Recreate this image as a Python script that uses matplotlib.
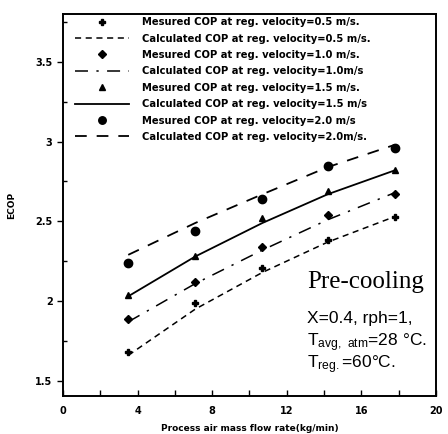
import matplotlib
matplotlib.use("Agg")
import matplotlib.pyplot as plt
from matplotlib.ticker import MultipleLocator

flow = [3.5, 7.1, 10.7, 14.2, 17.8]

meas_05 = [1.68, 1.99, 2.21, 2.38, 2.53]
calc_05 = [1.66, 1.95, 2.18, 2.37, 2.53]
meas_10 = [1.89, 2.12, 2.34, 2.54, 2.67]
calc_10 = [1.87, 2.11, 2.32, 2.51, 2.68]
meas_15 = [2.04, 2.28, 2.52, 2.69, 2.82]
calc_15 = [2.03, 2.28, 2.49, 2.67, 2.82]
meas_20 = [2.24, 2.44, 2.64, 2.85, 2.96]
calc_20 = [2.29, 2.49, 2.67, 2.84, 2.98]

labels = [
    "Mesured COP at reg. velocity=0.5 m/s.",
    "Calculated COP at reg. velocity=0.5 m/s.",
    "Mesured COP at reg. velocity=1.0 m/s.",
    "Calculated COP at reg. velocity=1.0m/s",
    "Mesured COP at reg. velocity=1.5 m/s.",
    "Calculated COP at reg. velocity=1.5 m/s",
    "Mesured COP at reg. velocity=2.0 m/s",
    "Calculated COP at reg. velocity=2.0m/s.",
]

x_ticks = [0, 4, 8, 12, 16, 20]
y_ticks = [1.5, 2, 2.5, 3, 3.5]
y_tick_labels = ["1.5", "2", "2.5", "3", "3.5"]

fig = plt.figure(figsize=(4.48, 4.34), dpi=100)
ax = fig.add_axes([0.1406, 0.0876, 0.8324, 0.8801])

k = "black"
ax.plot(flow, meas_05, ls="none", marker="P", ms=5, color=k, label=labels[0])
ax.plot(flow, calc_05, ls=(0, (4, 3)), lw=1.1, color=k, label=labels[1])
ax.plot(flow, meas_10, ls="none", marker="D", ms=4, color=k, label=labels[2])
ax.plot(flow, calc_10, ls=(0, (8.5, 5.5, 1.5, 5.5)), lw=1.1, color=k, label=labels[3])
ax.plot(flow, meas_15, ls="none", marker="^", ms=5, color=k, label=labels[4])
ax.plot(flow, calc_15, ls="-", lw=1.3, color=k, label=labels[5])
ax.plot(flow, meas_20, ls="none", marker="o", ms=6, color=k, label=labels[6])
ax.plot(flow, calc_20, ls=(0, (6.5, 5.5)), lw=1.3, color=k, label=labels[7])

ax.set_xlim(0, 20)
ax.set_ylim(1.405, 3.8)
ax.set_xticks(x_ticks)
ax.set_xticklabels([str(v) for v in x_ticks], fontsize=7, fontweight="bold")
ax.xaxis.set_minor_locator(MultipleLocator(2))
ax.set_yticks(y_ticks)
ax.set_yticklabels(y_tick_labels, fontsize=7, fontweight="bold")
ax.yaxis.set_minor_locator(MultipleLocator(0.25))
ax.tick_params(axis="x", which="both", direction="in", length=4, width=1, pad=7)
ax.tick_params(axis="y", which="major", direction="out", length=4, width=1)
ax.tick_params(axis="y", which="minor", direction="in", length=3, width=1)
for s in ax.spines.values():
    s.set_linewidth(1.4)

ax.set_xlabel("Process air mass flow rate(kg/min)", fontsize=6.5, fontweight="bold", labelpad=6)
ax.set_ylabel("ECOP", fontsize=6.5, fontweight="bold", labelpad=14)

leg = ax.legend(loc="upper left", bbox_to_anchor=(0.02, 1.005), frameon=False,
                prop={"size": 7.2, "weight": "bold"}, handlelength=5.4,
                labelspacing=0.64, handletextpad=1.3, borderaxespad=0.1,
                markerscale=0.9)

ax.text(0.654, 0.298, "Pre-cooling", transform=ax.transAxes, ha="left", va="center",
        fontsize=18, family="Liberation Serif")
ax.text(0.654, 0.204, "X=0.4, rph=1,", transform=ax.transAxes, ha="left", va="center",
        fontsize=12.5, family="Liberation Sans")
ax.text(0.654, 0.139, r"$\mathregular{T_{avg,\ atm}}$=28 °C.", transform=ax.transAxes,
        ha="left", va="center", fontsize=12.5, family="Liberation Sans")
ax.text(0.654, 0.081, r"$\mathregular{T_{reg.}}$=60°C.", transform=ax.transAxes,
        ha="left", va="center", fontsize=12.5, family="Liberation Sans")

fig.savefig("out.png", dpi=100)
